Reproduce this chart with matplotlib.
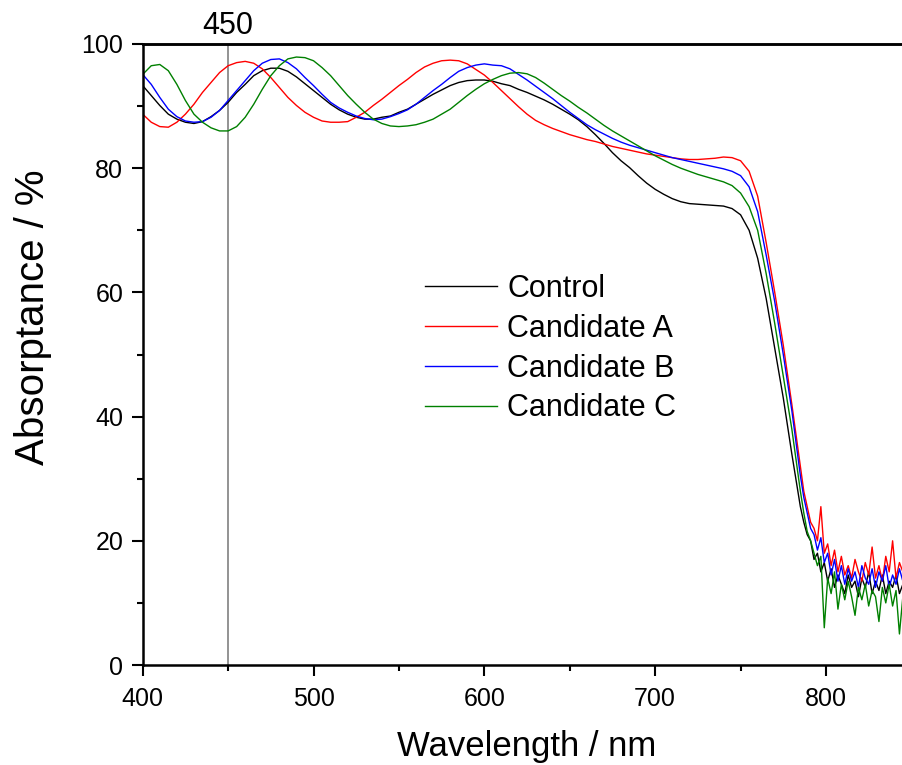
import matplotlib
matplotlib.use("Agg")
import matplotlib.pyplot as plt
from matplotlib.ticker import MultipleLocator

plt.rcParams['font.family'] = ['Liberation Sans', 'DejaVu Sans']

# wavelength grid (nm): 5 nm steps up to the band edge, 2 nm in the noisy tail
wavelength = list(range(400, 790, 5)) + list(range(787, 846, 2))

# absorptance (%)
control = [93.3, 91.7, 90.1, 88.7, 87.9, 87.4, 87.2, 87.5, 88.3, 89.3,
           90.6, 92.2, 93.5, 94.9, 95.7, 96.1, 96.1, 95.6, 94.7, 93.6,
           92.5, 91.4, 90.3, 89.4, 88.7, 88.2, 87.9, 87.9, 88.2, 88.4,
           89.0, 89.5, 90.3, 91.1, 91.9, 92.6, 93.3, 93.8, 94.1, 94.2,
           94.2, 94.0, 93.6, 93.3, 92.7, 92.2, 91.6, 91.0, 90.3, 89.5,
           88.7, 87.8, 86.7, 85.4, 84.0, 82.5, 81.2, 80.1, 78.8, 77.6,
           76.6, 75.8, 75.1, 74.6, 74.3, 74.2, 74.1, 74.0, 73.9, 73.5,
           72.5, 70.0, 65.5, 59.0, 51.0, 43.0, 34.0, 25.5,
           23.0, 21.0, 20.0, 17.0, 18.0, 15.0, 16.5, 13.5, 15.5, 12.5,
           14.5, 13.0, 11.5, 14.5, 12.5, 13.5, 11.0, 14.0, 12.5, 15.0,
           11.5, 13.5, 12.0, 14.5, 11.5, 13.5, 12.5, 14.5, 11.5, 13.0]
cand_a = [88.7, 87.4, 86.7, 86.6, 87.4, 88.7, 90.3, 92.2, 93.8, 95.4,
          96.5, 97.0, 97.2, 96.9, 96.0, 94.6, 93.0, 91.4, 90.1, 89.0,
          88.2, 87.6, 87.4, 87.4, 87.5, 88.2, 89.0, 90.1, 91.1, 92.2,
          93.3, 94.3, 95.4, 96.3, 96.9, 97.3, 97.4, 97.3, 96.8, 95.9,
          95.0, 93.8, 92.5, 91.2, 89.9, 88.7, 87.7, 87.0, 86.4, 85.9,
          85.4, 85.0, 84.6, 84.3, 83.9, 83.5, 83.2, 82.9, 82.6, 82.3,
          82.1, 81.9, 81.7, 81.5, 81.4, 81.4, 81.5, 81.6, 81.8, 81.7,
          81.2, 79.5, 75.5, 68.0, 60.0, 51.5, 42.0, 32.0,
          28.0, 25.5, 23.0, 22.0, 20.0, 25.5, 18.0, 19.5, 16.0, 18.5,
          15.0, 17.5, 14.5, 16.0, 14.0, 17.0, 15.0, 13.5, 16.5, 14.5,
          19.0, 14.0, 16.0, 13.5, 17.5, 15.0, 20.0, 14.0, 16.5, 15.0]
cand_b = [95.1, 93.5, 91.4, 89.5, 88.3, 87.6, 87.4, 87.5, 88.2, 89.3,
          90.9, 92.5, 94.1, 95.7, 96.9, 97.5, 97.6, 97.0, 96.0, 94.6,
          93.3, 91.9, 90.6, 89.7, 89.0, 88.4, 88.0, 87.8, 87.9, 88.3,
          88.8, 89.4, 90.3, 91.4, 92.5, 93.5, 94.6, 95.6, 96.2, 96.6,
          96.8, 96.6, 96.5, 96.0, 95.1, 94.2, 93.2, 92.2, 91.2, 90.1,
          89.0, 88.0, 87.0, 86.2, 85.5, 84.8, 84.2, 83.7, 83.3, 82.9,
          82.5, 82.1, 81.7, 81.4, 81.1, 80.8, 80.5, 80.2, 79.9, 79.5,
          78.8, 77.0, 73.0, 66.0, 58.5, 50.0, 41.0, 30.5,
          27.0, 24.5, 22.0, 21.0, 18.5, 20.5, 16.5, 18.0, 14.5, 17.0,
          13.5, 16.0, 13.0, 15.5, 13.5, 15.0, 12.5, 16.0, 14.0, 13.0,
          15.5, 12.5, 15.0, 13.5, 16.0, 12.5, 14.5, 13.0, 15.5, 13.5]
cand_c = [95.1, 96.5, 96.7, 95.7, 93.5, 90.9, 88.7, 87.4, 86.5, 86.0,
          86.0, 86.7, 88.2, 90.3, 92.7, 94.9, 96.5, 97.6, 97.9, 97.8,
          97.3, 96.2, 94.9, 93.3, 91.7, 90.3, 89.0, 87.9, 87.2, 86.8,
          86.7, 86.8, 87.0, 87.4, 87.9, 88.7, 89.5, 90.6, 91.7, 92.7,
          93.6, 94.3, 94.9, 95.3, 95.4, 95.2, 94.6, 93.7, 92.7, 91.7,
          90.8, 89.8, 88.9, 87.9, 86.9, 86.0, 85.2, 84.4, 83.6, 82.8,
          82.0, 81.3, 80.6, 80.0, 79.5, 79.0, 78.6, 78.2, 77.8, 77.2,
          76.0, 73.8, 70.0, 63.0, 55.0, 46.5, 38.0, 28.0,
          24.5, 21.5, 20.0, 18.0, 16.0, 17.5, 6.0, 14.0, 11.5, 15.0,
          9.0, 13.0, 10.5, 13.5, 11.0, 8.0, 12.5, 10.5, 13.0, 9.5,
          12.0, 11.0, 7.0, 12.5, 10.0, 13.0, 9.5, 12.0, 5.0, 11.0]

labels = ['Control', 'Candidate A', 'Candidate B', 'Candidate C']
colors = ['black', '#ff0000', '#0000ff', '#008000']
marker_wl = 450

fig = plt.figure(figsize=(9.02, 7.65), dpi=100)
ax = fig.add_axes([0.1582, 0.1307, 0.8418, 0.8118])

for series, lab, col in zip([control, cand_a, cand_b, cand_c], labels, colors):
    ax.plot(wavelength, series, color=col, lw=1.0, label=lab)

ax.axvline(marker_wl, color='#808080', lw=1.2, zorder=0)

ax.set_xlim(400, 844.5)
ax.set_ylim(0, 100)
ax.xaxis.set_major_locator(MultipleLocator(100))
ax.xaxis.set_minor_locator(MultipleLocator(50))
ax.yaxis.set_major_locator(MultipleLocator(20))
ax.yaxis.set_minor_locator(MultipleLocator(10))
ax.tick_params(which='major', direction='out', length=8, width=1.5, labelsize=18)
ax.tick_params(which='minor', direction='out', length=4.5, width=1.5)
ax.tick_params(axis='x', which='major', pad=8)
ax.tick_params(axis='y', which='major', pad=6)

for side in ['left', 'bottom', 'top']:
    ax.spines[side].set_linewidth(1.8)
ax.spines['right'].set_visible(False)

# top axis only carries the 450 nm marker label
top = ax.secondary_xaxis('top')
top.set_xticks([marker_wl])
top.tick_params(length=0, labelsize=22, pad=2)
top.spines['top'].set_linewidth(1.8)

ax.set_xlabel('Wavelength / nm', fontsize=25)
ax.xaxis.set_label_coords(0.505, -0.105)
ax.set_ylabel('Absorptance / %', fontsize=29)
ax.yaxis.set_label_coords(-0.12, 0.56)

ax.legend(loc='upper left', bbox_to_anchor=(425 / 902, 1 - 274 / 765),
          bbox_transform=fig.transFigure, frameon=False, fontsize=22,
          handlelength=2.36, handletextpad=0.33, labelspacing=0.32,
          borderpad=0, borderaxespad=0)

fig.savefig('out.png', dpi=100)
plt.close(fig)
